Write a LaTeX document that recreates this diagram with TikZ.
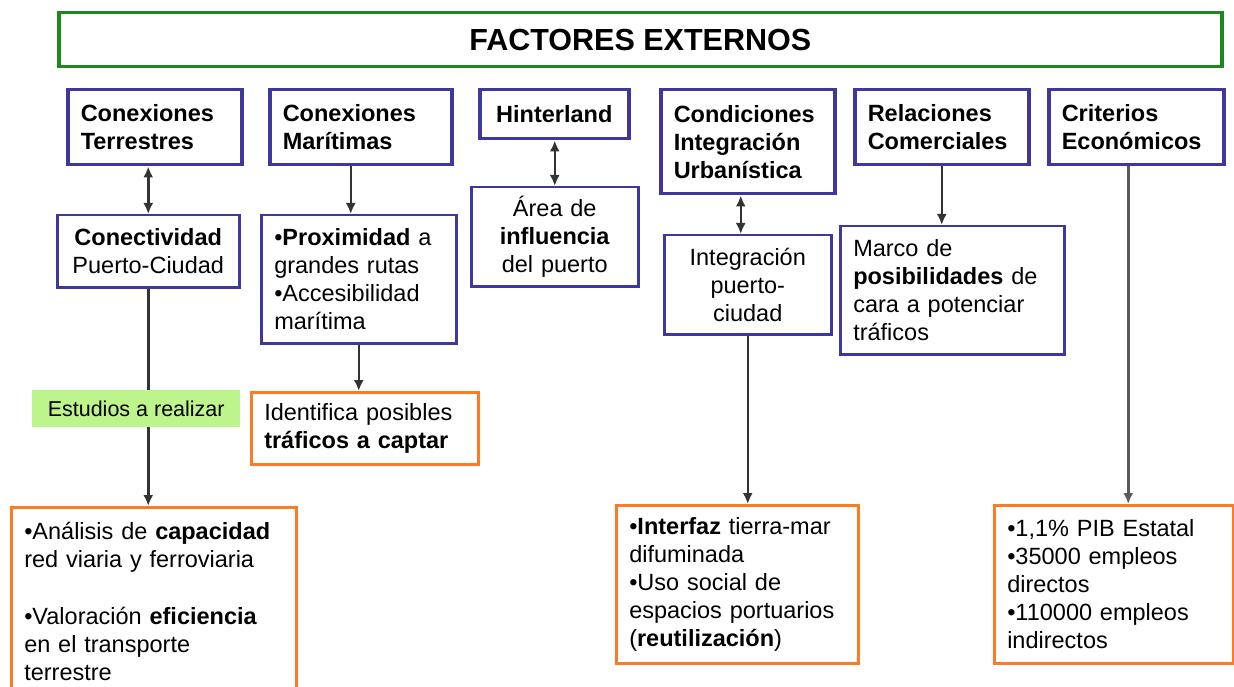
\documentclass[tikz,border=0pt]{standalone}
\usepackage{fontspec}
\setmainfont{Liberation Sans}
\usepackage{tikz}
\usetikzlibrary{positioning,arrows.meta,calc}
\usepackage{xcolor}
\definecolor{catblue}{RGB}{62,56,158}
\definecolor{resorange}{RGB}{255,122,36}
\definecolor{titgreen}{RGB}{30,135,30}
\definecolor{studgreen}{RGB}{190,244,140}

\begin{document}
\begin{tikzpicture}[x=1pt,y=-1pt]
\fontsize{23.5}{28}\selectfont
\tikzstyle{basenode}=[anchor=north west, inner xsep=13pt, inner ysep=0pt];
\tikzstyle{tit}=[basenode, draw=titgreen, line width=3.5pt, minimum width=1163pt, minimum height=54pt, font=\fontsize{30.5}{34}\selectfont\bfseries];
\tikzstyle{cat}=[basenode, draw=catblue, line width=3.5pt, align=left, font=\bfseries];
\tikzstyle{desc}=[basenode, draw=catblue, line width=2.5pt];
\tikzstyle{res}=[basenode, draw=resorange, line width=2.5pt, align=left];
\tikzstyle{stud}=[basenode, fill=studgreen, minimum width=208pt, minimum height=37pt, font=\fontsize{21.5}{24}\selectfont];
\tikzstyle{basearr}=[line width=2.5pt, black!80, >={Latex[length=11pt,width=10pt]}];
\tikzstyle{arr}=[basearr, ->];
\tikzstyle{bidarr}=[basearr, <->];

\useasboundingbox (0,0) rectangle (1234,687);
\clip (0,0) rectangle (1234,687);

\node[tit] (fact) at (57,11) {FACTORES EXTERNOS};

% factores
\node[cat, text width=148pt, minimum height=75pt] (terr) at (66,88) {Conexiones\\Terrestres};
\node[cat, text width=156pt, minimum height=75pt] (mar) at (268,88) {Conexiones\\Marítimas};
\node[cat, text width=123pt, minimum height=49pt, align=center] (hint) at (478,88) {Hinterland};
\node[cat, text width=148pt, minimum height=104pt] (cond) at (659,88) {Condiciones\\Integración\\Urbanística};
\node[cat, text width=148pt, minimum height=75pt] (rel) at (853,88) {Relaciones\\Comerciales};
\node[cat, text width=149pt, minimum height=75pt] (crit) at (1047,88) {Criterios\\Económicos};

\node[desc, text width=156pt, minimum height=72pt, align=center] (conec) at (56,214) {\textbf{Conectividad}\\Puerto-Ciudad};
\node[desc, text width=169pt, minimum height=128pt, align=left] (prox) at (260,214) {•\textbf{Proximidad} a\\grandes rutas\\•Accesibilidad\\marítima};
\node[desc, text width=141pt, minimum height=99pt, align=center] (area) at (470,186) {Área de\\\textbf{influencia}\\del puerto};
\node[desc, text width=141pt, minimum height=99pt, align=center] (integ) at (663,234) {Integración\\puerto-\\ciudad};
\node[desc, text width=198pt, minimum height=128pt, align=left] (marco) at (839,225) {Marco de\\\textbf{posibilidades} de\\cara a potenciar\\tráficos};

\node[res, text width=201pt, minimum height=72pt] (ident) at (250,391) {Identifica posibles\\\textbf{tráficos a captar}};
\node[res, text width=259pt, minimum height=188pt] (anal) at (10,506) {•Análisis de \textbf{capacidad}\\red viaria y ferroviaria\\[29pt]•Valoración \textbf{eficiencia}\\en el transporte\\terrestre};
\node[res, text width=216pt, minimum height=158pt] (interf) at (615,504) {•\textbf{Interfaz} tierra-mar\\difuminada\\•Uso social de\\espacios portuarios\\(\textbf{reutilización})};
\node[res, text width=213pt, minimum height=158pt] (pib) at (993,504) {•1,1\% PIB Estatal\\•35000 empleos\\directos\\•110000 empleos\\indirectos};

\draw[bidarr] (conec.north |- terr.south) -- (conec.north);
\draw[arr] ([xshift=-10pt]mar.south) -- ([xshift=-10pt]mar.south |- prox.north);
\draw[bidarr] (area.north |- hint.south) -- (area.north);
\draw[bidarr] ([xshift=-7pt]cond.south) -- ([xshift=-7pt]cond.south |- integ.north);
\draw[arr] (rel.south) -- (rel.south |- marco.north);
\draw[arr, line width=3.5pt, black!65] ([xshift=-8pt]crit.south) -- ([xshift=-8pt]crit.south |- pib.north);

\draw[arr] (conec.south) -- (conec.south |- anal.north);
\draw[arr] (prox.south) -- (prox.south |- ident.north);
\draw[arr] (integ.south) -- (integ.south |- interf.north);

\node[stud, align=center] (estud) at (32,390) {Estudios a realizar};

\end{tikzpicture}
\end{document}
